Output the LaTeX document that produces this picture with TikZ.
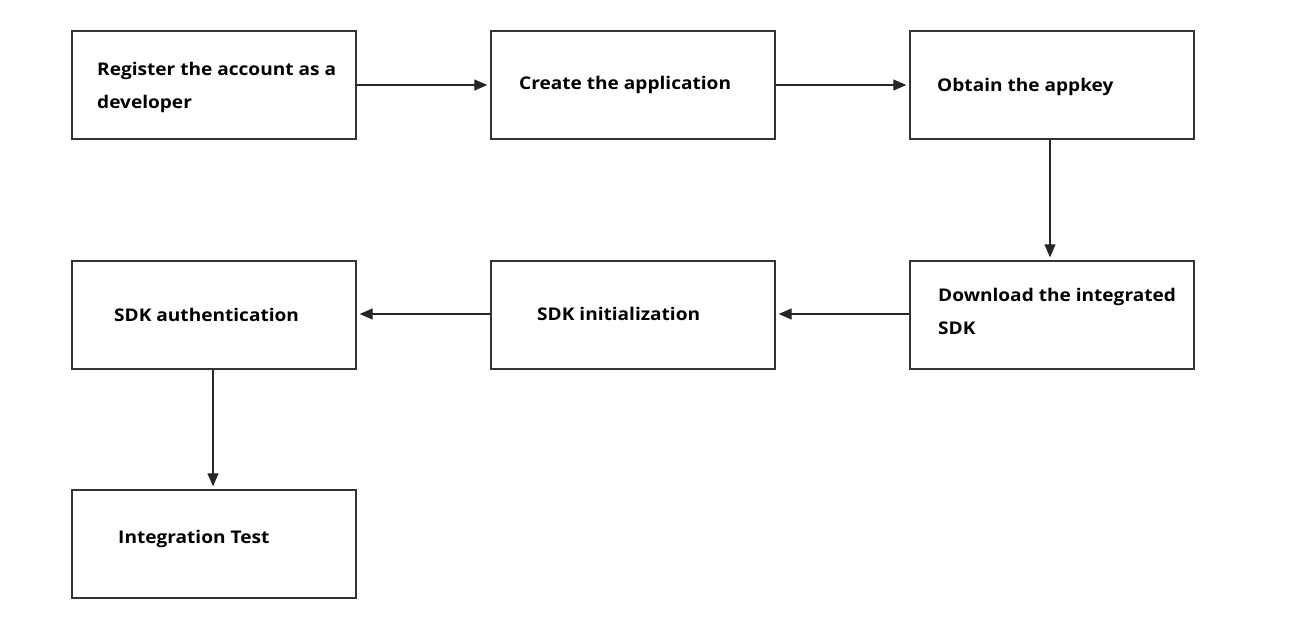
\documentclass[tikz,border=0pt]{standalone}
\usepackage{fontspec}
\setmainfont[FakeStretch=1.09]{Open Sans}
\usetikzlibrary{arrows.meta}
\begin{document}
\begin{tikzpicture}[x=1pt,y=-1pt,
  box/.style={draw=black!80,line width=1.4pt,minimum width=284pt,minimum height=108pt,inner sep=0pt,fill=white},
  lbl/.style={anchor=base west,inner sep=0pt,font=\fontsize{17.5}{33}\selectfont\bfseries},
  flow/.style={draw=black!85,line width=1.3pt,-{Triangle[length=13pt,width=11pt]},shorten >=3pt}]
\useasboundingbox (0,0) rectangle (1292,626);
\node[box] (b1) at (214,85) {};
\node[box] (b2) at (633,85) {};
\node[box] (b3) at (1052,85) {};
\node[box] (b4) at (214,315) {};
\node[box] (b5) at (633,315) {};
\node[box] (b6) at (1052,315) {};
\node[box] (b7) at (214,544) {};
\node[lbl] (t1a) at (97,75) {Register the account as a};
\node[lbl] (t1b) at (97,108) {developer};
\node[lbl] (t2) at (519,89) {Create the application};
\node[lbl] (t3) at (937,92) {Obtain the appkey};
\node[lbl] (t6a) at (938,301) {Download the integrated};
\node[lbl] (t6b) at (938,334) {SDK};
\node[lbl] (t4) at (114,321) {SDK authentication};
\node[lbl] (t5) at (537,320) {SDK initialization};
\node[lbl] (t7) at (118,543) {Integration Test};
\draw[flow] (b1.east |- 0,85) -- (b2.west |- 0,85);
\draw[flow] (b2.east |- 0,85) -- (b3.west |- 0,85);
\draw[flow] (b3.south -| 1050,0) -- (b6.north -| 1050,0);
\draw[flow] (b6.west |- 0,314) -- (b5.east |- 0,314);
\draw[flow] (b5.west |- 0,314) -- (b4.east |- 0,314);
\draw[flow] (b4.south -| 213,0) -- (b7.north -| 213,0);
\end{tikzpicture}
\end{document}
